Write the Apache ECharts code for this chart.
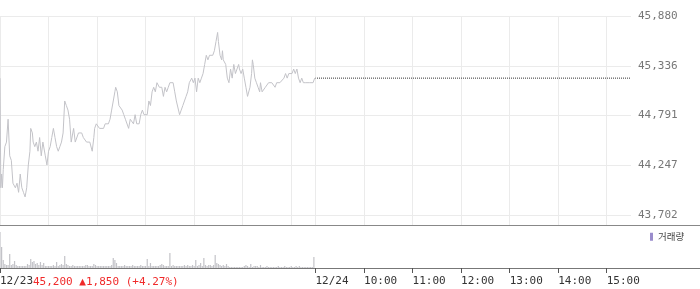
<!DOCTYPE html>
<html><head><meta charset="utf-8">
<script src="https://cdn.jsdelivr.net/npm/echarts@6/dist/echarts.min.js"></script>
<style>html,body{margin:0;padding:0;background:#fff}#c{width:700px;height:289px}</style>
</head><body><div id="c"></div>
<script>
// ---- data (minutes counted from 12/23 09:00; 12/24 09:00 = 390) ----
const priceMinute = [0,1,2,3,4,6,8,10,12,14,16,19,21,23,25,27,29,31,33,35,37,38,40,41,43,45,47,49,51,53,56,58,60,62,64,66,68,70,72,74,76,78,80,82,84,86,88,91,93,95,97,99,101,103,105,107,109,111,113,114,116,117,119,121,123,125,128,130,132,134,136,138,140,142,143,145,147,149,151,153,155,157,159,161,163,165,167,169,172,174,176,178,180,182,184,186,188,190,192,194,196,197,200,202,204,206,208,210,212,214,216,218,220,222,224,226,228,230,232,234,237,239,241,243,245,247,249,251,253,255,257,259,261,263,265,267,269,270,272,274,275,276,279,281,283,285,287,289,291,293,295,296,298,300,302,304,306,308,309,311,312,313,315,317,319,321,322,324,326,328,330,332,334,336,338,340,342,344,346,348,351,353,355,357,359,361,363,365,367,369,371,373,375,378,383,387,389];
const priceValue = [45200,44000,44150,44000,44200,44450,44500,44750,44350,44300,44050,44000,44050,43950,44150,44000,43950,43900,44000,44250,44400,44650,44600,44500,44450,44500,44400,44550,44350,44500,44350,44250,44400,44450,44550,44650,44550,44450,44400,44450,44500,44600,44950,44900,44850,44750,44500,44650,44500,44500,44600,44600,44600,44550,44550,44500,44500,44500,44500,44400,44550,44650,44700,44700,44650,44650,44650,44700,44700,44700,44750,44850,44950,45050,45100,45050,44900,44900,44850,44800,44750,44750,44650,44750,44750,44700,44800,44700,44700,44800,44850,44800,44800,44800,44950,44900,45050,45100,45050,45150,45150,45100,45100,45000,45100,45050,45100,45150,45150,45150,45050,44950,44950,44800,44850,44900,44950,45000,45050,45150,45200,45150,45200,45050,45200,45150,45200,45250,45350,45450,45400,45450,45450,45450,45500,45600,45700,45600,45450,45400,45500,45400,45350,45200,45150,45300,45200,45350,45250,45300,45350,45300,45250,45300,45200,45100,45000,45000,45100,45250,45400,45350,45200,45150,45100,45050,45150,45050,45050,45100,45100,45150,45150,45150,45150,45100,45150,45150,45150,45150,45200,45250,45200,45250,45250,45250,45300,45250,45300,45200,45150,45200,45150,45150,45150,45150,45200];
// volume (thousand shares), one bar per 2 minutes of the 12/23 session
const volume = [108,63,24,12,9,9,42,9,12,21,
  9,6,6,6,6,6,6,12,9,27,
  18,21,12,15,9,18,9,15,6,6,
  6,6,6,9,6,18,6,9,12,9,
  36,12,9,6,6,9,6,6,6,6,
  6,6,6,9,9,6,6,6,12,9,
  6,6,6,6,6,6,6,6,6,9,
  30,24,15,6,6,6,6,9,6,6,
  6,6,9,6,6,6,6,9,6,6,
  6,27,6,15,6,6,6,6,6,9,
  12,9,6,6,6,45,6,9,6,6,
  6,6,6,6,9,6,9,6,6,9,
  6,24,6,9,15,6,30,9,6,9,
  9,6,9,39,15,12,9,6,9,6,
  12,6,3,3,3,3,3,3,3,3,
  3,6,9,6,3,12,3,6,6,6,
  3,9,3,3,3,6,3,3,3,3,
  3,3,6,3,3,3,6,3,3,3,
  6,3,3,6,3,6,3,3,3,3,
  3,3,3,3,33];
const volStepMinutes = 2;
const yTicks = [43702, 44247, 44791, 45336, 45880];
const tickMinutes = [0, 390, 450, 510, 570, 630, 690, 750];
const tickLabels = ['12/23','12/24','10:00','11:00','12:00','13:00','14:00','15:00'];
const gridMinutes = [0,60,120,180,240,300,360,390,450,510,570,630,690,750];
const sessionEnd = 780;
const lastPrice = 45200, change = 1850, changePct = 4.27;
const volMax = 129;

function fmt(n){ return String(n).replace(/\B(?=(\d{3})+(?!\d))/g, ','); }
const cats = Array.from({length: sessionEnd + 1}, (_, i) => String(i));
const gridSet = new Set(gridMinutes);
const tickSet = new Set(tickMinutes);
const MONO = '"DejaVu Sans Mono", monospace';

const chart = echarts.init(document.getElementById('c'), null, {renderer: 'canvas'});
const yMin = yTicks[0], yMax = yTicks[yTicks.length - 1];
const splitLineX = { show: true, interval: (i) => gridSet.has(i), lineStyle: { color: '#ebebeb', width: 1 } };
const gridBase = { left: 0, width: 631, outerBoundsMode: 'none', containLabel: false };

chart.setOption({
  animation: false,
  grid: [
    Object.assign({ top: 16, height: 199 }, gridBase),
    Object.assign({ top: 215, height: 10 }, gridBase),
    Object.assign({ top: 225, height: 43 }, gridBase)
  ],
  legend: {
    left: 650, top: 232, padding: 0, icon: 'rect', itemWidth: 3, itemHeight: 8,
    selectedMode: false,
    data: [{ name: '거래량', itemStyle: { color: '#9a8ccc' } }],
    textStyle: { fontSize: 9.5, color: '#444', fontFamily: '"Noto Sans CJK KR", sans-serif' }
  },
  xAxis: [
    { type: 'category', gridIndex: 0, data: cats, boundaryGap: false, axisLine: {show:false}, axisTick: {show:false}, axisLabel: {show:false}, splitLine: splitLineX },
    { type: 'category', gridIndex: 1, data: cats, boundaryGap: false, axisLine: {show:false}, axisTick: {show:false}, axisLabel: {show:false}, splitLine: splitLineX },
    { type: 'category', gridIndex: 2, data: cats, boundaryGap: false,
      axisLine: { show: false },
      axisTick: { show: true, interval: (i) => tickSet.has(i), length: 5, lineStyle: { color: '#555' } },
      axisLabel: { show: true, interval: (i) => tickSet.has(i), margin: 8, align: 'left',
        formatter: (v) => tickLabels[tickMinutes.indexOf(Number(v))],
        color: '#333', fontSize: 11, fontFamily: MONO },
      splitLine: { show: false } }
  ],
  yAxis: [
    { type: 'value', gridIndex: 0, position: 'right', min: yMin, max: yMax, interval: (yMax - yMin) / (yTicks.length - 1),
      axisLine: {show:false}, axisTick: {show:false},
      axisLabel: { margin: 7, color: '#777', fontSize: 11, fontFamily: MONO, formatter: (v) => fmt(Math.round(v)) },
      splitLine: { show: true, lineStyle: { color: '#ebebeb', width: 1 } } },
    { type: 'value', gridIndex: 1, show: false },
    { type: 'value', gridIndex: 2, min: 0, max: volMax, show: false }
  ],
  series: [
    { name: '주가', type: 'line', xAxisIndex: 0, yAxisIndex: 0, showSymbol: false, symbol: 'none',
      lineStyle: { color: '#c3c3c8', width: 1 }, data: priceMinute.map((m, i) => [m, priceValue[i]]) },
    { name: '현재가', type: 'line', xAxisIndex: 0, yAxisIndex: 0, showSymbol: false, symbol: 'none',
      lineStyle: { color: '#333', width: 1, type: [1, 1], dashOffset: 0.5 }, data: [[tickMinutes[1], lastPrice], [sessionEnd, lastPrice]] },
    { name: '거래량', type: 'bar', xAxisIndex: 2, yAxisIndex: 2, barWidth: 1.2, itemStyle: { color: '#c3c3c8' },
      data: volume.map((v, i) => [i * volStepMinutes, v]) }
  ],
  graphic: [
    { type: 'line', shape: { x1: 0, y1: 225.5, x2: 700, y2: 225.5 }, style: { stroke: '#888', lineWidth: 1 }, silent: true },
    { type: 'line', shape: { x1: 0, y1: 268.5, x2: 700, y2: 268.5 }, style: { stroke: '#777', lineWidth: 1 }, silent: true },
    { type: 'text', x: 33, y: 282, silent: true,
      style: { text: fmt(lastPrice) + ' ▲' + fmt(change) + ' (+' + changePct.toFixed(2) + '%)',
        fill: '#f02a2a', font: '11px ' + MONO, verticalAlign: 'middle', align: 'left' } }
  ]
});
</script></body></html>
